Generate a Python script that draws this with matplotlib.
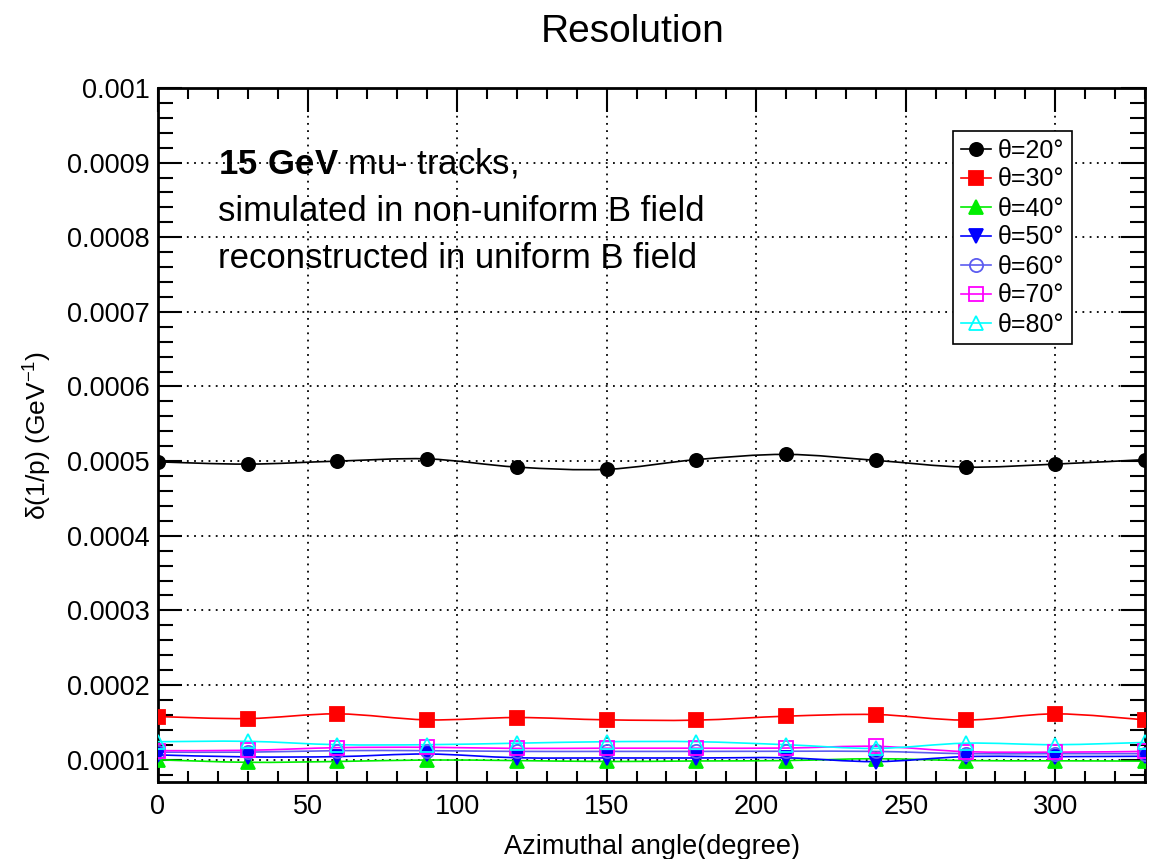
import matplotlib
matplotlib.use("Agg")
import matplotlib.pyplot as plt
from matplotlib.path import Path
from matplotlib.patches import PathPatch
from matplotlib.lines import Line2D
from matplotlib.ticker import MultipleLocator, FuncFormatter

plt.rcParams['font.family'] = ['Liberation Sans', 'DejaVu Sans']
plt.rcParams['mathtext.fontset'] = 'custom'
plt.rcParams['mathtext.rm'] = 'Liberation Sans'
plt.rcParams['mathtext.bf'] = 'Liberation Sans:bold'

# azimuthal angle (degree)
phi = [0, 30, 60, 90, 120, 150, 180, 210, 240, 270, 300, 330]

# delta(1/p) resolution per polar angle
res20 = [0.000499, 0.000496, 0.000500, 0.000503, 0.000492, 0.000489,
         0.000502, 0.000509, 0.000501, 0.000492, 0.000496, 0.000502]
res30 = [0.0001577, 0.0001550, 0.0001613, 0.0001533, 0.0001564, 0.0001533,
         0.0001529, 0.0001582, 0.0001604, 0.0001530, 0.0001613, 0.0001533]
res40 = [0.0000998, 0.0000964, 0.0000975, 0.0000995, 0.0000987, 0.0000975,
         0.0000982, 0.0000987, 0.0001012, 0.0000987, 0.0000984, 0.0000980]
res50 = [0.0001063, 0.0001036, 0.0001040, 0.0001075, 0.0001025, 0.0001022,
         0.0001022, 0.0001024, 0.0000973, 0.0001040, 0.0001040, 0.0001045]
res60 = [0.0001100, 0.0001100, 0.0001120, 0.0001120, 0.0001110, 0.0001110,
         0.0001110, 0.0001112, 0.0001110, 0.0001080, 0.0001080, 0.0001080]
res70 = [0.0001120, 0.0001125, 0.0001160, 0.0001165, 0.0001150, 0.0001153,
         0.0001153, 0.0001155, 0.0001178, 0.0001107, 0.0001100, 0.0001110]
res80 = [0.0001240, 0.0001245, 0.0001200, 0.0001200, 0.0001220, 0.0001240,
         0.0001240, 0.0001200, 0.0001150, 0.0001220, 0.0001200, 0.0001230]

labels = ['θ=20°', 'θ=30°', 'θ=40°', 'θ=50°', 'θ=60°', 'θ=70°', 'θ=80°']
series = [res20, res30, res40, res50, res60, res70, res80]
colors = ['black', '#ff0000', '#00ee00', '#0000ff', '#5c5cf0', '#ff00ff', '#00ffff']
markers = ['o', 's', '^', 'v', 'o', 's', '^']
filled = [True, True, True, True, False, False, False]


def smooth_path(x, y):
    # Catmull-Rom segments written as cubic Bezier pieces
    pts = list(zip(x, y))
    verts = [pts[0]]
    codes = [Path.MOVETO]
    n = len(pts)
    for i in range(n - 1):
        p0 = pts[max(i - 1, 0)]
        p1 = pts[i]
        p2 = pts[i + 1]
        p3 = pts[min(i + 2, n - 1)]
        c1 = (p1[0] + (p2[0] - p0[0]) / 6, p1[1] + (p2[1] - p0[1]) / 6)
        c2 = (p2[0] - (p3[0] - p1[0]) / 6, p2[1] - (p3[1] - p1[1]) / 6)
        verts += [c1, c2, p2]
        codes += [Path.CURVE4] * 3
    return Path(verts, codes)


fig = plt.figure(figsize=(11.65, 8.59), dpi=100)
ax = fig.add_axes([158 / 1165, 1 - 782 / 859, (1145 - 158) / 1165, (782 - 88) / 859])

handles = []
for vals, lab, col, mk, fl in zip(series, labels, colors, markers, filled):
    ax.add_patch(PathPatch(smooth_path(phi, vals), fill=False, edgecolor=col, lw=1.2, zorder=3))
    ms = 9.5 if mk in ('o', 's') else 10.5
    ax.plot(phi, vals, ls='none', marker=mk, ms=ms, color=col,
            mfc=col if fl else 'none', mew=1.3, zorder=4)
    handles.append(Line2D([], [], color=col, lw=1.2, marker=mk, ms=ms,
                          mfc=col if fl else 'none', mew=1.3))

ax.set_xlim(0, 330)
ax.set_ylim(0.00007, 0.001)
ax.xaxis.set_major_locator(MultipleLocator(50))
ax.xaxis.set_minor_locator(MultipleLocator(10))
ax.yaxis.set_major_locator(MultipleLocator(0.0001))
ax.yaxis.set_minor_locator(MultipleLocator(0.00002))
ax.yaxis.set_major_formatter(FuncFormatter(lambda v, p: f'{v:g}'))
ax.grid(True, which='major', color='black', ls=(0, (1, 3)), lw=1.3)
ax.tick_params(which='both', direction='in', top=True, right=True, labelsize=19.5, width=1.5)
ax.tick_params(axis='y', which='major', length=17, pad=6)
ax.tick_params(axis='y', which='minor', length=11)
ax.tick_params(axis='x', which='major', length=17, pad=9)
ax.tick_params(axis='x', which='minor', length=8)
for sp in ax.spines.values():
    sp.set_linewidth(2)

ax.set_xlabel('Azimuthal angle(degree)', fontsize=19.5, labelpad=10)
ax.set_ylabel(r'δ(1/p) (GeV$^{\mathregular{-1}}$)', fontsize=19, labelpad=10)

fig.text(633 / 1165, 1 - 42 / 859, 'Resolution', fontsize=28, ha='center', va='baseline')

fig.text(218 / 1165, 1 - 173 / 859, r'$\mathbf{15\ GeV}$ mu- tracks,', fontsize=25, va='baseline')
fig.text(218 / 1165, 1 - 221 / 859, 'simulated in non-uniform B field', fontsize=25, va='baseline')
fig.text(218 / 1165, 1 - 268 / 859, 'reconstructed in uniform B field', fontsize=25, va='baseline')

leg = fig.legend(handles, labels, loc='upper left', bbox_to_anchor=(953 / 1165, 1 - 131 / 859),
                 fontsize=18, frameon=True, fancybox=False, edgecolor='black', framealpha=1,
                 borderaxespad=0, borderpad=0.3, labelspacing=0.2, handlelength=1.2,
                 handletextpad=0.3)
leg.get_frame().set_linewidth(1.2)

fig.savefig('out.png', dpi=100)
